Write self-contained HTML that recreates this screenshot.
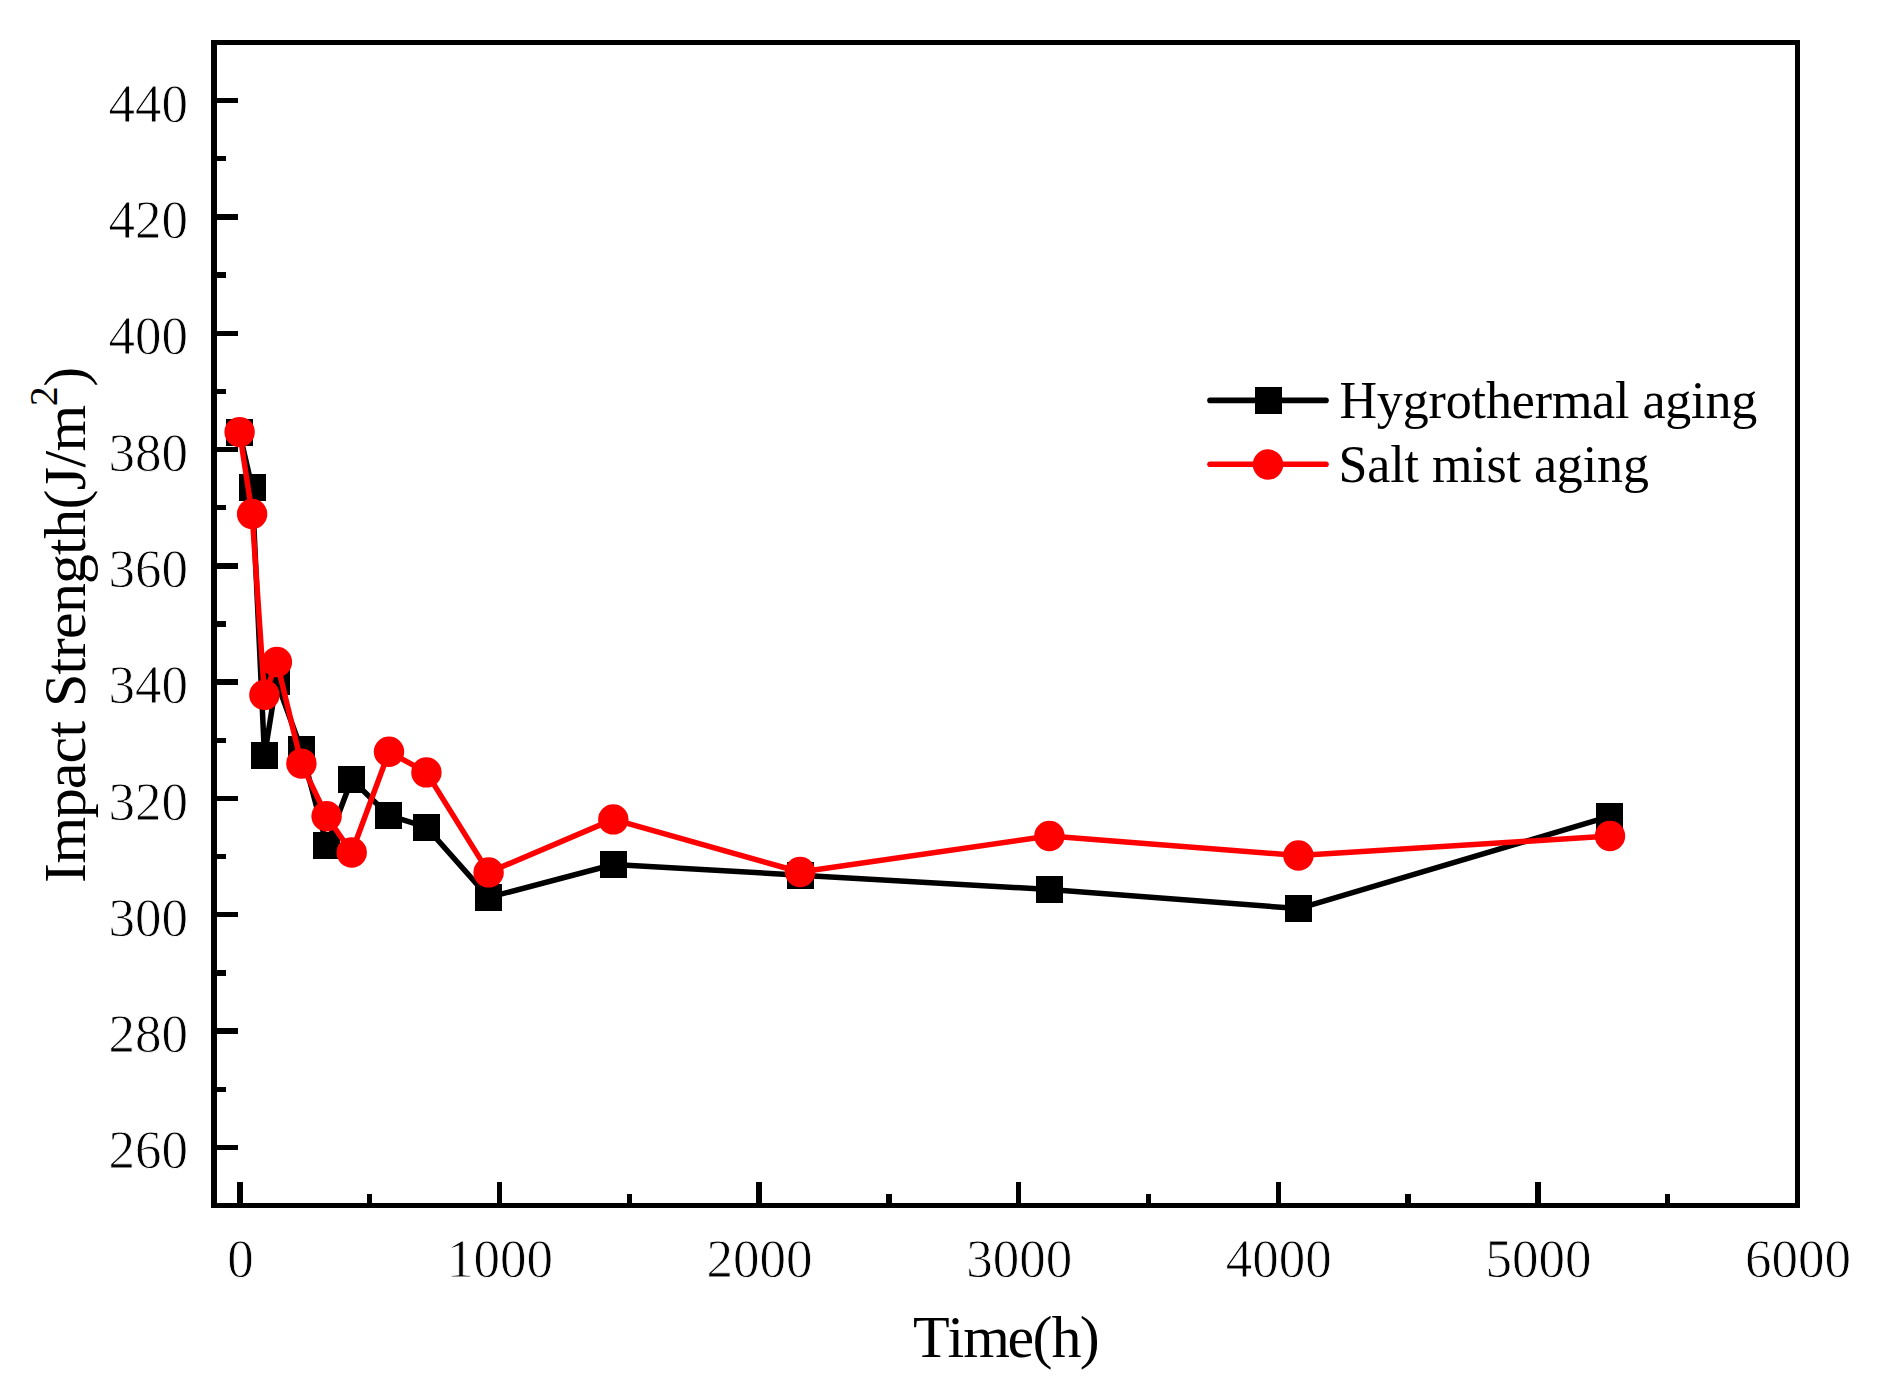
<!DOCTYPE html>
<html lang="en"><head><meta charset="utf-8"><title>Impact Strength vs Time</title>
<style>html,body{margin:0;padding:0;background:#fff}svg{display:block}text{font-kerning:none;font-family:"Liberation Serif","Times New Roman",serif;fill:#000}.tk{font-size:53px;stroke:#fff;stroke-width:.8px}.lg{font-size:52px}.tt{font-size:60px}</style></head><body>
<svg width="1877" height="1390" viewBox="0 0 1877 1390">
<rect width="1877" height="1390" fill="#fff"/>
<g shape-rendering="crispEdges" stroke="#000" fill="none">
<rect x="214.0" y="42.5" width="1583.5" height="1163.0" stroke-width="5.6"/>
<path d="M214.0 1147.3h24 M214.0 1031.0h24 M214.0 914.8h24 M214.0 798.5h24 M214.0 682.1h24 M214.0 565.9h24 M214.0 449.6h24 M214.0 333.2h24 M214.0 216.9h24 M214.0 100.7h24 M214.0 1089.2h12 M214.0 972.9h12 M214.0 856.6h12 M214.0 740.3h12 M214.0 624.0h12 M214.0 507.7h12 M214.0 391.4h12 M214.0 275.1h12 M214.0 158.8h12 M240.0 1205.5v-24 M499.5 1205.5v-24 M759.1 1205.5v-24 M1018.7 1205.5v-24 M1278.3 1205.5v-24 M1537.9 1205.5v-24 M369.8 1205.5v-12 M629.3 1205.5v-12 M888.9 1205.5v-12 M1148.5 1205.5v-12 M1408.1 1205.5v-12 M1667.7 1205.5v-12" stroke-width="5.3"/>
</g>
<g class="tk" text-anchor="end">
<text transform="translate(188 1168.3) scale(1 1.05)">260</text>
<text transform="translate(188 1052.0) scale(1 1.05)">280</text>
<text transform="translate(188 935.8) scale(1 1.05)">300</text>
<text transform="translate(188 819.5) scale(1 1.05)">320</text>
<text transform="translate(188 703.1) scale(1 1.05)">340</text>
<text transform="translate(188 586.9) scale(1 1.05)">360</text>
<text transform="translate(188 470.6) scale(1 1.05)">380</text>
<text transform="translate(188 354.2) scale(1 1.05)">400</text>
<text transform="translate(188 237.9) scale(1 1.05)">420</text>
<text transform="translate(188 121.7) scale(1 1.05)">440</text>
</g>
<g class="tk" text-anchor="middle">
<text transform="translate(240.5 1276.8) scale(1 1.05)">0</text>
<text transform="translate(500.0 1276.8) scale(1 1.05)">1000</text>
<text transform="translate(759.6 1276.8) scale(1 1.05)">2000</text>
<text transform="translate(1019.2 1276.8) scale(1 1.05)">3000</text>
<text transform="translate(1278.8 1276.8) scale(1 1.05)">4000</text>
<text transform="translate(1538.4 1276.8) scale(1 1.05)">5000</text>
<text transform="translate(1798.0 1276.8) scale(1 1.05)">6000</text>
</g>
<text class="tt" x="912.9 947.5 963.3 1007.4 1032.6 1051.4 1079.8" y="1357">Time(h)</text>
<text class="tt" transform="translate(85 883) rotate(-90)" x="0.0 19.4 64.7 93.8 119.6 145.4 161.6 176.1 208.5 224.7 244.1 269.9 299.0 328.1 344.3 373.4 392.7 415.4 431.6" y="0">Impact Strength(J/m<tspan font-size="40" x="476.8" dy="-28.5">2</tspan><tspan x="496.2" dy="28.5">)</tspan></text>
<polyline points="239.5,432.5 252.1,487.5 264.5,755.9 276.5,681.0 301.4,749.5 326.8,845.3 351.6,779.5 388.6,815.3 426.4,827.2 488.6,897.4 613.5,864.5 800.4,875.2 1049.5,889.5 1298.6,908.6 1609.7,816.4" fill="none" stroke="#000" stroke-width="5.5" stroke-linejoin="round"/>
<g fill="#000" shape-rendering="crispEdges"><rect x="226.0" y="419.0" width="27" height="27"/><rect x="238.6" y="474.0" width="27" height="27"/><rect x="251.0" y="742.4" width="27" height="27"/><rect x="263.0" y="667.5" width="27" height="27"/><rect x="287.9" y="736.0" width="27" height="27"/><rect x="313.3" y="831.8" width="27" height="27"/><rect x="338.1" y="766.0" width="27" height="27"/><rect x="375.1" y="801.8" width="27" height="27"/><rect x="412.9" y="813.7" width="27" height="27"/><rect x="475.1" y="883.9" width="27" height="27"/><rect x="600.0" y="851.0" width="27" height="27"/><rect x="786.9" y="861.7" width="27" height="27"/><rect x="1036.0" y="876.0" width="27" height="27"/><rect x="1285.1" y="895.1" width="27" height="27"/><rect x="1596.2" y="802.9" width="27" height="27"/></g>
<polyline points="239.6,432.1 252.1,513.9 264.4,694.9 276.9,662.0 301.4,763.6 326.6,816.3 351.7,852.5 389.0,751.8 426.4,772.4 488.6,872.4 613.3,819.4 800.1,872.0 1049.4,836.0 1298.4,855.5 1610.0,836.0" fill="none" stroke="#f00" stroke-width="5.5" stroke-linejoin="round"/>
<g fill="#f00"><circle cx="239.6" cy="432.1" r="15.2"/><circle cx="252.1" cy="513.9" r="15.2"/><circle cx="264.4" cy="694.9" r="15.2"/><circle cx="276.9" cy="662.0" r="15.2"/><circle cx="301.4" cy="763.6" r="15.2"/><circle cx="326.6" cy="816.3" r="15.2"/><circle cx="351.7" cy="852.5" r="15.2"/><circle cx="389.0" cy="751.8" r="15.2"/><circle cx="426.4" cy="772.4" r="15.2"/><circle cx="488.6" cy="872.4" r="15.2"/><circle cx="613.3" cy="819.4" r="15.2"/><circle cx="800.1" cy="872.0" r="15.2"/><circle cx="1049.4" cy="836.0" r="15.2"/><circle cx="1298.4" cy="855.5" r="15.2"/><circle cx="1610.0" cy="836.0" r="15.2"/></g>
<path d="M1210 400.4H1326" stroke="#000" stroke-width="5.6" stroke-linecap="round"/>
<rect x="1255" y="387.2" width="27" height="27" fill="#000" shape-rendering="crispEdges"/>
<path d="M1210 464.3H1326" stroke="#f00" stroke-width="5.6" stroke-linecap="round"/>
<circle cx="1268" cy="464.5" r="15.2" fill="#f00"/>
<text class="lg" x="1339.5 1376.8 1402.7 1428.5 1445.7 1471.6 1485.9 1511.8 1534.7 1551.9 1592.1 1615.1 1629.4 1642.4 1665.3 1691.1 1705.5 1731.3" y="418">Hygrothermal aging</text>
<text class="lg" x="1338.6 1367.3 1390.3 1404.6 1419.0 1431.9 1472.1 1486.5 1506.6 1521.0 1533.9 1556.8 1582.7 1597.0 1622.9" y="482">Salt mist aging</text>
</svg></body></html>
